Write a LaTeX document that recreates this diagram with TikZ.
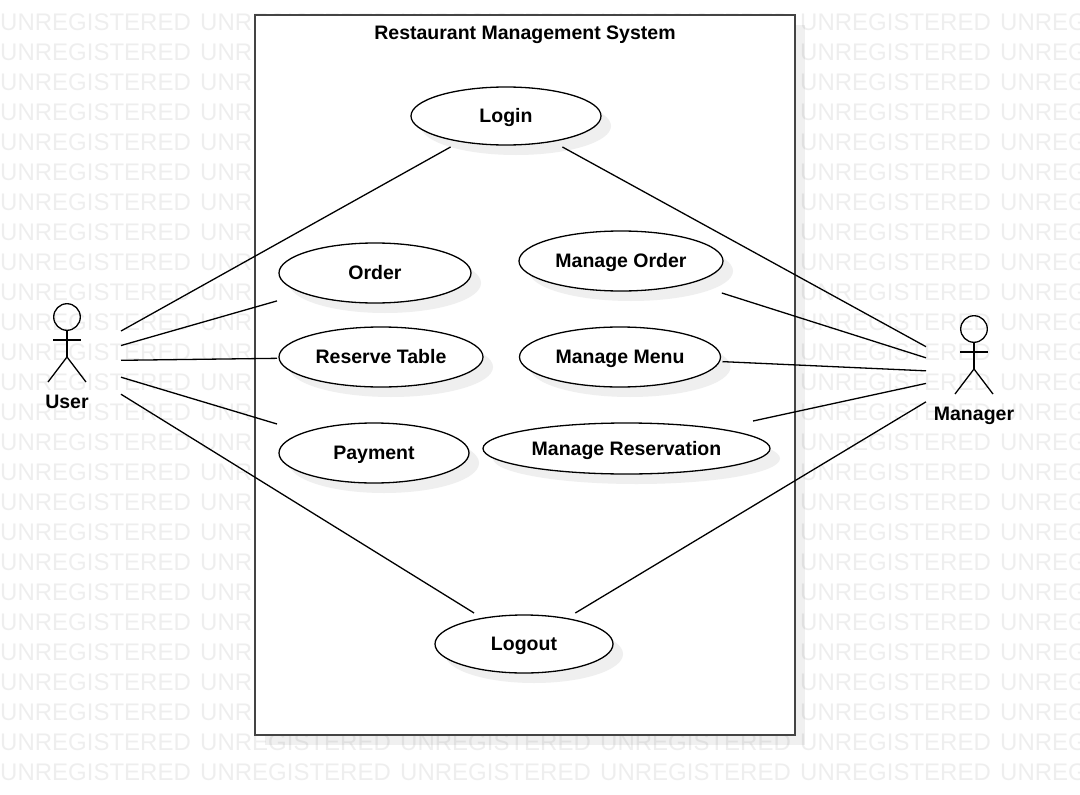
\documentclass[tikz,border=0pt]{standalone}
\usepackage{fontspec}
\setmainfont{Liberation Sans}
\usetikzlibrary{positioning}
\definecolor{watermark}{HTML}{EEEEEE}
\definecolor{boxline}{HTML}{444444}
\definecolor{shadowfill}{HTML}{EFEFEF}

\begin{document}
\begin{tikzpicture}[
    x=1pt, y=-1pt,
    mark text/.style={font=\fontsize{24}{28}\selectfont, text=watermark, anchor=west, inner sep=0pt},
    label text/.style={font=\fontsize{19.5}{24}\selectfont\bfseries, inner sep=0pt, text height=15pt, text depth=2pt},
    frame/.style={rectangle, draw=boxline, line width=2pt, fill=white, minimum width=540pt, minimum height=720pt, inner sep=0pt},
    ucase/.style={rectangle, label text, outer sep=0pt},
    actor/.style={rectangle, inner sep=0pt, outer sep=0pt, minimum height=112pt},
    link/.style={draw=black, line width=1.3pt}
]
    \useasboundingbox (0,0) rectangle (1080,795);

    % Watermark
    \foreach \col in {0,200,...,1000} {
        \foreach \row in {21,51,...,771} {
            \node [mark text] (wm-\col-\row) at (\col,{\row+1}) {UNREGISTERED};
        }
    }

    % System boundary
    \fill [black, opacity=0.06] (265,25) rectangle (805,745);
    \node [frame] (system) at (525,375) {};
    \node [label text] (title) at (525,33) {Restaurant Management System};

    % Use cases
    \foreach \id/\x/\y/\w/\h/\label in {
        login/506/116/190/58/Login,
        order/375/273/192/60/Order,
        reserve/381/357/204/60/Reserve Table,
        payment/374/453/190/60/Payment,
        mngorder/621/261/204/60/Manage Order,
        mngmenu/620/357/201/60/Manage Menu,
        mngres/626.5/448.5/287/51/Manage Reservation,
        logout/524/644/178/58/Logout} {
        \fill [shadowfill] ({\x+10},{\y+10}) ellipse ({\w/2} and {\h/2});
        \draw [fill=white, line width=1.3pt] (\x,\y) ellipse ({\w/2} and {\h/2});
        \node [ucase, minimum width={\w+4}, minimum height={\h+4}] (\id) at (\x,\y) {\label};
    }

    % Actors
    \foreach \id/\x/\y/\w/\label in {user/67/361/108/User, manager/974/373/96/Manager} {
        \node [actor, minimum width=\w pt] (\id) at (\x,\y) {};
        \draw [line width=1.3pt] (\x,{\y-44}) circle (13.3);
        \draw [line width=1.3pt] (\x,{\y-30.7}) -- (\x,{\y-4});
        \draw [line width=1.3pt] ({\x-14},{\y-21}) -- ({\x+14},{\y-21});
        \draw [line width=1.3pt] ({\x-19},{\y+21}) -- (\x,{\y-4}) -- ({\x+19},{\y+21});
        \node [label text] (\id-name) at (\x,{\y+41}) {\label};
    }

    % Connectors
    \foreach \uc in {login,order,reserve,payment,logout} {
        \draw [link] (user) -- (\uc);
    }
    \foreach \uc in {login,mngorder,mngmenu,mngres,logout} {
        \draw [link] (manager) -- (\uc);
    }
\end{tikzpicture}
\end{document}
